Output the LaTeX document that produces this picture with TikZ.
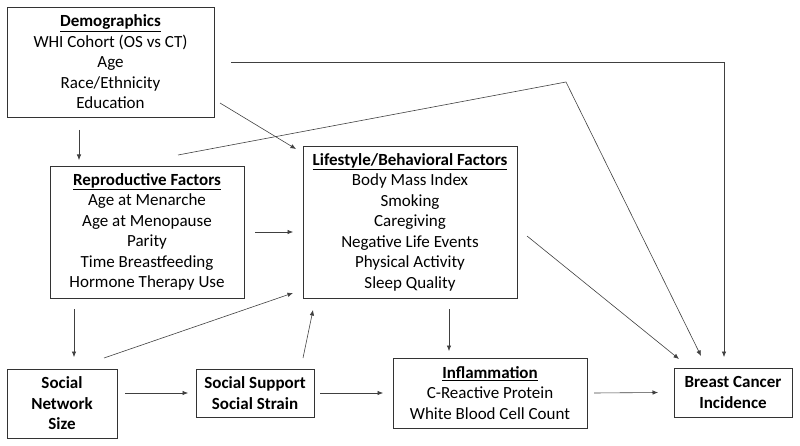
\documentclass[tikz,border=0pt]{standalone}
\usepackage{fontspec}
\setmainfont{Carlito}
\usetikzlibrary{arrows.meta,calc}
\begin{document}
\begin{tikzpicture}[x=1pt,y=-1pt,
  box/.style={draw=black!80,line width=0.9pt,inner sep=0pt,outer sep=0pt,align=center,
    font=\fontsize{17}{20.5}\selectfont},
  conn/.style={draw=black!75,line width=0.6pt,-{Latex[length=5.5pt,width=4.5pt]}}]
\useasboundingbox (0,0) rectangle (800,446);
\node[box,minimum width=207pt,minimum height=110pt] (dem) at (110.5,62)
  {\underline{\textbf{Demographics}}\\WHI Cohort (OS vs CT)\\Age\\Race/Ethnicity\\Education};
\node[box,minimum width=194pt,minimum height=132pt] (rep) at (147,232)
  {\underline{\textbf{Reproductive Factors}}\\Age at Menarche\\Age at Menopause\\Parity\\Time Breastfeeding\\Hormone Therapy Use};
\node[box,minimum width=214pt,minimum height=152pt] (life) at (410,222)
  {\underline{\textbf{Lifestyle/Behavioral Factors}}\\Body Mass Index\\Smoking\\Caregiving\\Negative Life Events\\Physical Activity\\Sleep Quality};
\node[box,minimum width=110pt,minimum height=69pt] (sns) at (62,403.5)
  {\textbf{Social}\\\textbf{Network}\\\textbf{Size}};
\node[box,minimum width=118pt,minimum height=48pt] (ss) at (255,393)
  {\textbf{Social Support}\\\textbf{Social Strain}};
\node[box,minimum width=194pt,minimum height=70pt] (infl) at (490,393)
  {\underline{\textbf{Inflammation}}\\C-Reactive Protein\\White Blood Cell Count};
\node[box,minimum width=118pt,minimum height=49pt] (bc) at (733,392.5)
  {\textbf{Breast Cancer}\\\textbf{Incidence}};
\coordinate (c1) at (566,82);
% arrows
\draw[conn] ($(dem.south)+(-31.5,13)$) -- ($(rep.north)+(-68,-6)$);
\draw[conn] ($(dem.south east)+(6,-14)$) -- ($(life.north west)+(-7,3)$);
\draw[conn] ($(dem.east)+(17,0)$) -| ($(bc.north)+(-9,-11)$);
\draw[conn] ($(rep.north)+(31,-11)$) -- (c1) -- ($(bc.north west)+(27,-12)$);
\draw[conn] ($(life.east)+(10,14)$) -- ($(bc.north west)+(5,-9)$);
\draw[conn] ($(rep.east)+(11,0)$) -- ($(life.west)+(-10,10)$);
\draw[conn] ($(sns.north)+(42,-11)$) -- ($(life.south west)+(-10,-5)$);
\draw[conn] ($(rep.south)+(-73,11)$) -- ($(sns.north)+(12,-12)$);
\draw[conn] ($(sns.east)+(8,-10.5)$) -- ($(ss.west)+(-8,0)$);
\draw[conn] ($(ss.north)+(48,-11)$) -- ($(life.south west)+(10,12)$);
\draw[conn] ($(ss.east)+(6,0)$) -- ($(infl.west)+(-10,0)$);
\draw[conn] ($(life.south)+(39,11)$) -- ($(infl.north)+(-41,-7)$);
\draw[conn] ($(infl.east)+(7,0)$) -- ($(bc.west)+(-16,0)$);
\end{tikzpicture}
\end{document}
